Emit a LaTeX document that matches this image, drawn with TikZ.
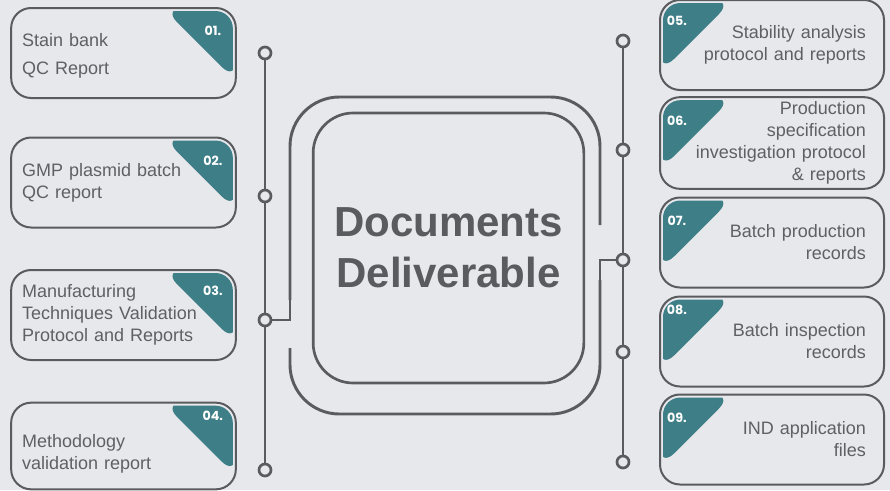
\documentclass[tikz,border=0pt]{standalone}
\usepackage{fontspec}
\setmainfont{Liberation Sans}
\newfontfamily\numfont{Poppins}
\definecolor{bggray}{RGB}{231,232,236}
\definecolor{linegray}{RGB}{90,91,94}
\definecolor{textgray}{RGB}{95,96,99}
\definecolor{tealmark}{RGB}{62,126,135}
\tikzset{
  card/.style={draw=linegray, line width=1.5pt, rounded corners=15pt,
    minimum height=67.5pt, text=textgray,
    font=\fontsize{13.5}{16.5}\selectfont},
  leftcard/.style={card, align=left, text width=152pt, inner xsep=8.25pt,
    path picture={
      \clip[rounded corners=13pt] ([shift={(2.25pt,2.25pt)}]path picture bounding box.south west)
        rectangle ([shift={(-2.25pt,-2.25pt)}]path picture bounding box.north east);
      \fill[tealmark] (path picture bounding box.north east) -- ++(-54.75pt,0pt)
        -- ++(54.75pt,-54.75pt) -- cycle;}},
  rightcard/.style={card, align=right, text width=141pt, inner xsep=13.5pt,
    path picture={
      \clip[rounded corners=13pt] ([shift={(2.25pt,2.25pt)}]path picture bounding box.south west)
        rectangle ([shift={(-2.25pt,-2.25pt)}]path picture bounding box.north east);
      \fill[tealmark] (path picture bounding box.north west) -- ++(54.75pt,0pt)
        -- ++(-54.75pt,-54.75pt) -- cycle;}},
  numlabel/.style={text=white, inner sep=0pt, font=\numfont\fontsize{9.5}{9.5}\selectfont\bfseries},
  dot/.style={circle, draw=linegray, fill=bggray, line width=2pt, minimum size=9pt, inner sep=0pt},
  wire/.style={draw=linegray, line width=2.2pt},
  hub/.style={draw=linegray, line width=2pt, rounded corners=30pt, minimum width=203pt,
    minimum height=202.5pt, text=linegray, align=center,
    font=\bfseries\fontsize{31.5}{38}\selectfont}
}
\begin{document}
\begin{tikzpicture}[x=0.75pt,y=-0.75pt]
\fill[bggray] (0,0) rectangle (890,490);
\useasboundingbox (0,0) rectangle (890,490);

% left column
\node[leftcard, font=\fontsize{13.5}{21}\selectfont] (c1) at (123.5,53) {\strut Stain bank\\QC Report};
\node[leftcard] (c2) at (123.5,182.5) {GMP plasmid batch\\QC report};
\node[leftcard] (c3) at (123.5,315) {Manufacturing\\Techniques Validation\\Protocol and Reports};
\node[leftcard, minimum height=65pt] (c4) at (123.5,446) {\strut\\[-6pt]Methodology\\validation report};
\node[numlabel] (n1) at ([shift={(-18pt,-18pt)}]c1.north east) {01.};
\node[numlabel] (n2) at ([shift={(-18pt,-18pt)}]c2.north east) {02.};
\node[numlabel] (n3) at ([shift={(-18pt,-16.5pt)}]c3.north east) {03.};
\node[numlabel] (n4) at ([shift={(-18pt,-10.5pt)}]c4.north east) {04.};

% right column
\node[rightcard] (c5) at (772,45) {Stability analysis\\protocol and reports};
\node[rightcard] (c6) at (772,143) {Production\\specification\\investigation protocol\\\& reports};
\node[rightcard] (c7) at (772,242.5) {Batch production\\records};
\node[rightcard] (c8) at (772,341.5) {Batch inspection\\records};
\node[rightcard] (c9) at (772,439.5) {IND application\\files};
\node[numlabel] (n5) at ([shift={(13.5pt,-16.5pt)}]c5.north west) {05.};
\node[numlabel] (n6) at ([shift={(13.5pt,-18.75pt)}]c6.north west) {06.};
\node[numlabel] (n7) at ([shift={(13.5pt,-18pt)}]c7.north west) {07.};
\node[numlabel] (n8) at ([shift={(13.5pt,-10.5pt)}]c8.north west) {08.};
\node[numlabel] (n9) at ([shift={(13.5pt,-18pt)}]c9.north west) {09.};

% centre
\node[hub] (docs) at (448.5,248) {Documents\\Deliverable};

% timelines
\node[dot] (l1) at (265,53) {};
\node[dot] (l2) at (265,196) {};
\node[dot] (l3) at (265,320) {};
\node[dot] (l4) at (265,470) {};
\node[dot] (r1) at (623,41) {};
\node[dot] (r2) at (623,150) {};
\node[dot] (r3) at (623,260) {};
\node[dot] (r4) at (623,352) {};
\node[dot] (r5) at (623,462) {};
\draw[wire] (l1) -- (l2) -- (l3) -- (l4);
\draw[wire] (r1) -- (r2) -- (r3) -- (r4) -- (r5);

% outer frame
\coordinate (lj) at (290,320);
\coordinate (rj) at (600,260);
\draw[wire] (l3) -- (lj) -- (290,300);
\draw[wire, rounded corners=37pt] (290,300) -- (290,97) -- (600,97) -- (600,225);
\draw[wire] (r3) -- (rj) -- (600,280);
\draw[wire, rounded corners=37pt] (600,280) -- (600,414) -- (290,414) -- (290,348);
\end{tikzpicture}
\end{document}
